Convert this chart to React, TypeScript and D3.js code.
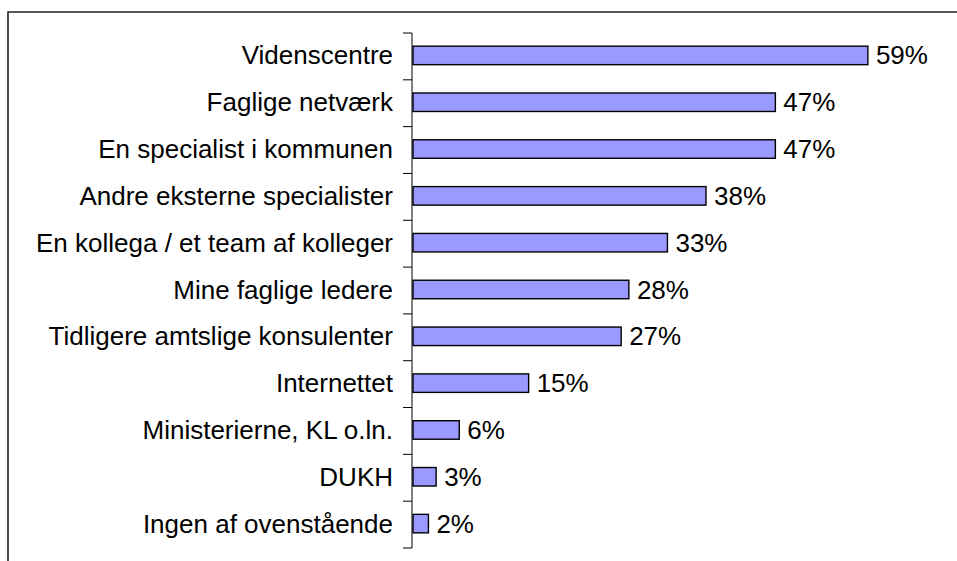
import React, { useEffect, useRef } from 'react';
import * as d3 from 'd3';

const categories = [
  'Videnscentre',
  'Faglige netværk',
  'En specialist i kommunen',
  'Andre eksterne specialister',
  'En kollega / et team af kolleger',
  'Mine faglige ledere',
  'Tidligere amtslige konsulenter',
  'Internettet',
  'Ministerierne, KL o.ln.',
  'DUKH',
  'Ingen af ovenstående',
];
const values = [59, 47, 47, 38, 33, 28, 27, 15, 6, 3, 2];
const valueLabels = ['59%', '47%', '47%', '38%', '33%', '28%', '27%', '15%', '6%', '3%', '2%'];

export default function App() {
  const svgRef = useRef<SVGSVGElement | null>(null);

  useEffect(() => {
    if (!svgRef.current) return;
    const W = 957;
    const H = 561;
    const svg = d3.select(svgRef.current);
    svg.selectAll('*').remove();
    svg.attr('width', W).attr('height', H);

    // outer frame (only top and left edges are visible in the crop)
    svg.append('path')
      .attr('d', `M8,${H + 5} V12 H${W + 5}`)
      .attr('fill', 'none')
      .attr('stroke', '#222')
      .attr('stroke-width', 1.6);

    const axisX = 412;
    const y = d3.scaleBand<string>()
      .domain(categories)
      .range([33, 548])
      .paddingInner(0)
      .paddingOuter(0);

    const x = d3.scaleLinear().domain([0, 100]).range([axisX + 1, axisX + 1 + 771]);

    const g = svg.append('g');
    const font = '"Liberation Sans", Arial, sans-serif';
    const fontSize = 26;

    // bars
    const barH = 18.5;
    g.selectAll('rect.bar')
      .data(values)
      .join('rect')
      .attr('class', 'bar')
      .attr('x', x(0))
      .attr('y', (d, i) => (y(categories[i]) as number) + y.bandwidth() / 2 - barH / 2 - 1)
      .attr('width', d => x(d) - x(0))
      .attr('height', barH)
      .attr('fill', '#9999ff')
      .attr('stroke', '#000')
      .attr('stroke-width', 1.4);

    // axis line + ticks at band boundaries
    g.append('line')
      .attr('x1', axisX).attr('x2', axisX)
      .attr('y1', 33).attr('y2', 548)
      .attr('stroke', '#000').attr('stroke-width', 1);

    const tickYs = categories.map(c => y(c) as number).concat([548]);
    g.selectAll('line.tick')
      .data(tickYs)
      .join('line')
      .attr('class', 'tick')
      .attr('x1', axisX - 9).attr('x2', axisX)
      .attr('y1', d => d).attr('y2', d => d)
      .attr('stroke', '#000').attr('stroke-width', 1);

    // category labels
    g.selectAll('text.cat')
      .data(categories)
      .join('text')
      .attr('class', 'cat')
      .attr('x', 393)
      .attr('y', d => (y(d) as number) + y.bandwidth() / 2 + 8)
      .attr('text-anchor', 'end')
      .attr('font-family', font)
      .attr('font-size', fontSize)
      .attr('fill', '#000')
      .text(d => d);

    // value labels
    g.selectAll('text.val')
      .data(values)
      .join('text')
      .attr('class', 'val')
      .attr('x', d => x(d) + 8)
      .attr('y', (d, i) => (y(categories[i]) as number) + y.bandwidth() / 2 + 8)
      .attr('font-family', font)
      .attr('font-size', fontSize)
      .attr('fill', '#000')
      .text((d, i) => valueLabels[i]);
  }, []);

  return (
    <svg
      ref={svgRef}
      style={{ position: 'absolute', left: 0, top: 0, display: 'block', background: '#fff' }}
    />
  );
}
